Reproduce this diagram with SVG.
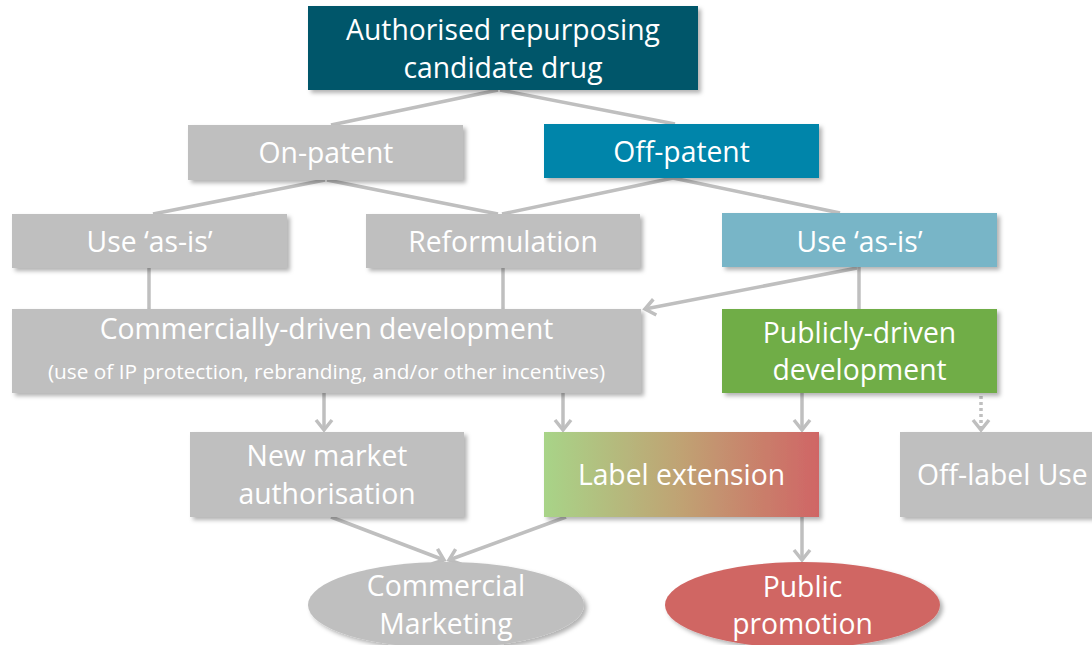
<svg xmlns="http://www.w3.org/2000/svg" width="1092" height="645" viewBox="0 0 1092 645">
<defs>
<style>
text{font-family:"Open Sans","Liberation Sans",sans-serif;fill:#fff;text-anchor:middle}
.t{font-size:28.3px}
.s{font-size:20.8px}
.c{stroke:#BFBFBF;stroke-width:3.5;fill:none}
.gray{fill:#BFBFBF}
</style>
<filter id="sh" x="-10%" y="-10%" width="130%" height="140%">
<feDropShadow dx="3" dy="3" stdDeviation="2" flood-color="#000" flood-opacity="0.3"/>
</filter>
<linearGradient id="lg" x1="0" y1="0" x2="1" y2="0">
<stop offset="0" stop-color="#A8D488"/>
<stop offset="0.5" stop-color="#C0A273"/>
<stop offset="1" stop-color="#D06565"/>
</linearGradient>
<marker id="ah" markerUnits="userSpaceOnUse" markerWidth="22" markerHeight="22" refX="11" refY="11" orient="auto" overflow="visible">
<path d="M1,3 L11,11 L1,19" fill="none" stroke="#BFBFBF" stroke-width="3.5"/>
</marker>
</defs>
<rect width="1092" height="645" fill="#fff"/>

<g id="connectors">
<line class="c" x1="498" y1="90" x2="331" y2="125"/>
<line class="c" x1="500" y1="90" x2="675" y2="124"/>
<line class="c" x1="325" y1="180" x2="153" y2="214"/>
<line class="c" x1="327" y1="180" x2="498" y2="214"/>
<line class="c" x1="673" y1="178" x2="502" y2="214"/>
<line class="c" x1="673" y1="178" x2="840" y2="213"/>
<line class="c" x1="149" y1="268" x2="149" y2="309"/>
<line class="c" x1="503" y1="268" x2="503" y2="309"/>
<line class="c" x1="859" y1="267" x2="859" y2="309"/>
<line class="c" x1="857" y1="268" x2="645" y2="309" marker-end="url(#ah)"/>
<line class="c" x1="324" y1="393" x2="324" y2="430" marker-end="url(#ah)"/>
<line class="c" x1="563" y1="393" x2="563" y2="430" marker-end="url(#ah)"/>
<line class="c" x1="802" y1="393" x2="802" y2="430" marker-end="url(#ah)"/>
<line class="c" x1="981" y1="396" x2="981" y2="430" stroke-dasharray="3,3" marker-end="url(#ah)"/>
<line class="c" x1="331" y1="517" x2="444" y2="560" marker-end="url(#ah)"/>
<line class="c" x1="566" y1="517" x2="449" y2="560" marker-end="url(#ah)"/>
<line class="c" x1="802" y1="517" x2="802" y2="560" marker-end="url(#ah)"/>
</g>

<g id="root">
<rect x="308" y="6" width="390" height="84" fill="#03566A" filter="url(#sh)"/>
<text class="t" x="503" y="40">Authorised repurposing</text>
<text class="t" x="503" y="78">candidate drug</text>
</g>
<g id="on-patent">
<rect class="gray" x="188" y="125" width="275" height="55" filter="url(#sh)"/>
<text class="t" x="326" y="163">On-patent</text>
</g>
<g id="off-patent">
<rect x="544" y="124" width="275" height="54" fill="#0085AA" filter="url(#sh)"/>
<text class="t" x="681.5" y="162">Off-patent</text>
</g>
<g id="use-as-is-left">
<rect class="gray" x="12" y="214" width="275" height="54" filter="url(#sh)"/>
<text class="t" x="149.5" y="252">Use ‘as-is’</text>
</g>
<g id="reformulation">
<rect class="gray" x="366" y="214" width="274" height="54" filter="url(#sh)"/>
<text class="t" x="503" y="252">Reformulation</text>
</g>
<g id="use-as-is-right">
<rect x="722" y="213" width="275" height="54" fill="#78B5C7" filter="url(#sh)"/>
<text class="t" x="859.5" y="252">Use ‘as-is’</text>
</g>
<g id="commercial-dev">
<rect class="gray" x="12" y="309" width="629" height="84" filter="url(#sh)"/>
<text class="t" x="326.5" y="339">Commercially-driven development</text>
<text class="s" x="326.5" y="379">(use of IP protection, rebranding, and/or other incentives)</text>
</g>
<g id="public-dev">
<rect x="722" y="309" width="275" height="84" fill="#70AD47" filter="url(#sh)"/>
<text class="t" x="859.5" y="343">Publicly-driven</text>
<text class="t" x="859.5" y="380">development</text>
</g>
<g id="new-market">
<rect class="gray" x="190" y="432" width="274" height="85" filter="url(#sh)"/>
<text class="t" x="327" y="466">New market</text>
<text class="t" x="327" y="504">authorisation</text>
</g>
<g id="label-extension">
<rect x="544" y="432" width="275" height="85" fill="url(#lg)" filter="url(#sh)"/>
<text class="t" x="681.5" y="485">Label extension</text>
</g>
<g id="off-label">
<rect class="gray" x="900" y="432" width="275" height="85" filter="url(#sh)"/>
<text class="t" x="917" y="485" style="text-anchor:start">Off-label Use</text>
</g>
<g id="commercial-marketing">
<ellipse class="gray" cx="446" cy="605" rx="138" ry="43" filter="url(#sh)"/>
<text class="t" x="446" y="596">Commercial</text>
<text class="t" x="446" y="634">Marketing</text>
</g>
<g id="public-promotion">
<ellipse cx="802.5" cy="605" rx="137.5" ry="43" fill="#D06664" filter="url(#sh)"/>
<text class="t" x="802.5" y="597">Public</text>
<text class="t" x="802.5" y="634">promotion</text>
</g>
</svg>
